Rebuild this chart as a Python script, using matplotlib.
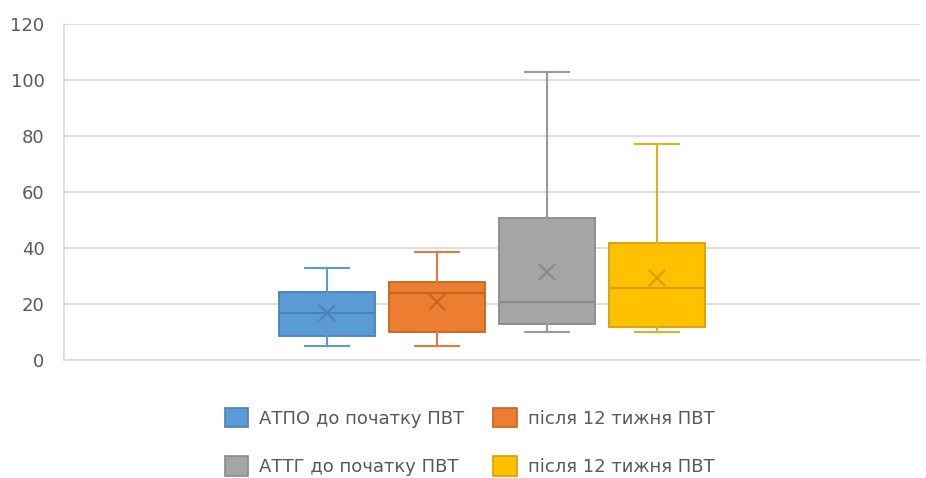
import matplotlib
matplotlib.use("Agg")
import matplotlib.pyplot as plt
from matplotlib.patches import Patch

# Summary statistics for each group (whisker low, Q1, median, Q3, whisker high, mean)
labels = ["АТПО до початку ПВТ", "після 12 тижня ПВТ", "АТТГ до початку ПВТ", "після 12 тижня ПВТ"]
whislo = [5, 5, 10, 10]
q1 = [8.6, 10.1, 12.9, 11.7]
med = [16.7, 23.8, 20.8, 25.8]
q3 = [24.3, 28.0, 50.8, 41.7]
whishi = [33, 38.6, 103, 77.1]
mean = [16.8, 20.8, 31.5, 29.2]

y_ticks = [0, 20, 40, 60, 80, 100, 120]

fills = ["#5B9BD5", "#ED7D31", "#A5A5A5", "#FFC000"]
edges = ["#4A82B8", "#C7651F", "#8A8A8A", "#D6A000"]
whisk = ["#5B9BD5", "#E07B3A", "#9A9A9A", "#E0B020"]

fig = plt.figure(figsize=(9.26, 4.78), dpi=100)
ax = fig.add_axes([64 / 926, 1 - 360 / 478, (920 - 64) / 926, (360 - 24) / 478])

positions = list(range(len(labels)))
for i, p in enumerate(positions):
    stats = [dict(whislo=whislo[i], q1=q1[i], med=med[i], q3=q3[i],
                  whishi=whishi[i], mean=mean[i], fliers=[])]
    ax.bxp(stats, positions=[p], widths=0.88, patch_artist=True,
           showmeans=True, showfliers=False,
           boxprops=dict(facecolor=fills[i], edgecolor=edges[i], linewidth=1.3),
           medianprops=dict(color=edges[i], linewidth=1.5),
           whiskerprops=dict(color=whisk[i], linewidth=1.5),
           capprops=dict(color=whisk[i], linewidth=1.5),
           meanprops=dict(marker="x", markeredgecolor=edges[i], markersize=12,
                          markeredgewidth=1.6),
           capwidths=0.4, zorder=3)

ax.set_xlim(1.5 - 3.89, 1.5 + 3.89)
ax.set_ylim(0, 120)
ax.set_yticks(y_ticks)
ax.set_xticks([])
ax.grid(axis="y", color="#D9D9D9", linewidth=1.2, zorder=0)
ax.set_axisbelow(True)
for s in ["top", "right"]:
    ax.spines[s].set_visible(False)
for s in ["left", "bottom"]:
    ax.spines[s].set_color("#D9D9D9")
    ax.spines[s].set_linewidth(1.2)
ax.tick_params(axis="y", length=0, pad=14, labelsize=13, labelcolor="#595959")

# Legend laid out row by row: two entries per row
handles = [Patch(facecolor=f, edgecolor=e, linewidth=1.2) for f, e in zip(fills, edges)]
order = [0, 2, 1, 3]
fig.legend([handles[k] for k in order], [labels[k] for k in order],
           loc="center", bbox_to_anchor=(469.5 / 926, 1 - 442 / 478),
           ncol=2, frameon=False, fontsize=13, labelcolor="#595959",
           handlelength=1.3, handleheight=1.3, handletextpad=0.6,
           columnspacing=1.6, labelspacing=1.6)

fig.savefig("out.png", dpi=100)
